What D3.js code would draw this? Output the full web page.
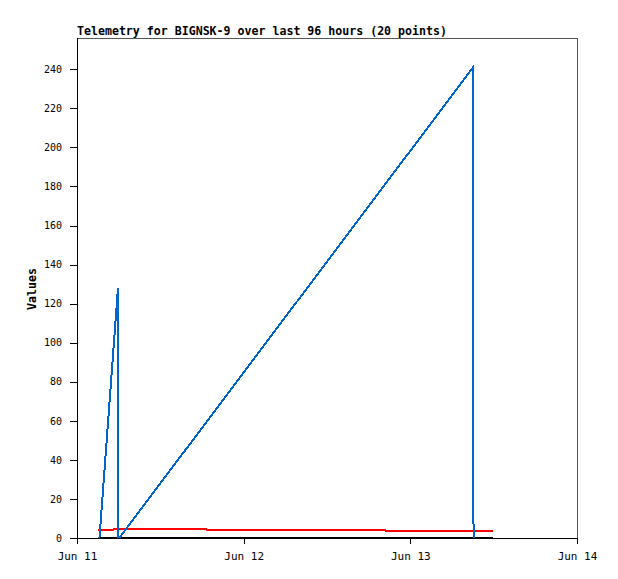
<!DOCTYPE html>
<html>
<head>
<meta charset="utf-8">
<script src="https://cdn.jsdelivr.net/npm/d3@7"></script>
<style>
  html, body { margin: 0; padding: 0; background: #fff; }
  svg { display: block; }
</style>
</head>
<body>
<svg id="chart" width="618" height="579"></svg>
<script>
// ---- data ----
const titleText = "Telemetry for BIGNSK-9 over last 96 hours (20 points)";
const yLabel = "Values";
const xDomain = ["2023-06-11T00:00:00Z", "2023-06-14T00:00:00Z"];
const xTickDates = ["2023-06-11T00:00:00Z", "2023-06-12T00:00:00Z", "2023-06-13T00:00:00Z", "2023-06-14T00:00:00Z"];
const yTicks = [0, 20, 40, 60, 80, 100, 120, 140, 160, 180, 200, 220, 240];
const yMax = 256;

const blueTimes  = ["2023-06-11T03:14:00Z", "2023-06-11T05:54:00Z", "2023-06-11T05:57:00Z", "2023-06-11T06:05:00Z", "2023-06-13T09:02:00Z", "2023-06-13T09:06:00Z"];
const blueValues = [0, 128, 0, 0, 241, 0];

const redTimes  = ["2023-06-11T03:00:00Z", "2023-06-11T03:24:00Z", "2023-06-11T05:12:00Z", "2023-06-11T05:18:00Z", "2023-06-11T18:36:00Z", "2023-06-11T18:42:00Z", "2023-06-12T20:18:00Z", "2023-06-12T20:24:00Z", "2023-06-13T11:54:00Z"];
const redValues = [3.8, 4.3, 4.3, 4.8, 4.8, 4.3, 4.3, 3.8, 3.8];

const blackTimes  = ["2023-06-11T03:00:00Z", "2023-06-13T11:54:00Z"];
const blackValues = [0, 0];

// ---- layout ----
const svg = d3.select("#chart");
const margin = { left: 77, top: 38 };
const W = 500, H = 500;
const monoFont = "'DejaVu Sans Mono', 'Liberation Mono', monospace";

const x = d3.scaleUtc().domain(xDomain.map(d => new Date(d))).range([0, W]);
const y = d3.scaleLinear().domain([0, yMax]).range([H, 0]);

const g = svg.append("g").attr("transform", `translate(${margin.left},${margin.top})`);

// frame (top + right)
g.append("path")
  .attr("d", `M0.5,0.5H${W + 0.5}V${H}`)
  .attr("fill", "none").attr("stroke", "#555").attr("stroke-width", 1)
  .attr("shape-rendering", "crispEdges");

// series
const mk = (times, vals) => times.map((t, i) => ({ t: new Date(t), v: vals[i] }));
const line = d3.line().x(d => x(d.t)).y(d => y(d.v));

g.append("path").datum(mk(blackTimes, blackValues))
  .attr("d", line).attr("fill", "none").attr("stroke", "#000").attr("stroke-width", 2)
  .attr("shape-rendering", "crispEdges");
g.append("path").datum(mk(redTimes, redValues))
  .attr("d", line).attr("fill", "none").attr("stroke", "#ff0000").attr("stroke-width", 2)
  .attr("shape-rendering", "crispEdges");
g.append("path").datum(mk(blueTimes, blueValues))
  .attr("d", line).attr("fill", "none").attr("stroke", "#0066cc").attr("stroke-width", 2)
  .attr("shape-rendering", "crispEdges");

// y axis
const yAxis = d3.axisLeft(y).tickValues(yTicks).tickSize(7).tickPadding(8).tickFormat(d3.format("d"));
const ya = g.append("g").call(yAxis);
ya.select(".domain").attr("d", `M0.5,0V${H + 0.5}`).attr("stroke", "#000").attr("shape-rendering", "crispEdges");
ya.selectAll(".tick line").attr("stroke", "#000").attr("shape-rendering", "crispEdges");
ya.selectAll("text").attr("font-family", monoFont).attr("font-size", 10).attr("fill", "#000");

// x axis
const xAxis = d3.axisBottom(x).tickValues(xTickDates.map(d => new Date(d))).tickSize(6).tickPadding(8).tickFormat(d3.utcFormat("%b %d"));
const xa = g.append("g").attr("transform", `translate(0,${H})`).call(xAxis);
xa.select(".domain").attr("d", `M0,0.5H${W + 0.5}`).attr("stroke", "#000").attr("shape-rendering", "crispEdges");
xa.selectAll(".tick line").attr("stroke", "#000").attr("shape-rendering", "crispEdges");
xa.selectAll("text").attr("font-family", monoFont).attr("font-size", 11).attr("fill", "#000");

// title
svg.append("text").attr("x", margin.left).attr("y", 35)
  .attr("font-family", monoFont).attr("font-size", 11.6).attr("font-weight", "bold")
  .text(titleText);

// y label
svg.append("text")
  .attr("transform", `translate(36,289) rotate(-90)`)
  .attr("text-anchor", "middle")
  .attr("font-family", monoFont).attr("font-size", 11.6).attr("font-weight", "bold")
  .text(yLabel);
</script>
</body>
</html>
